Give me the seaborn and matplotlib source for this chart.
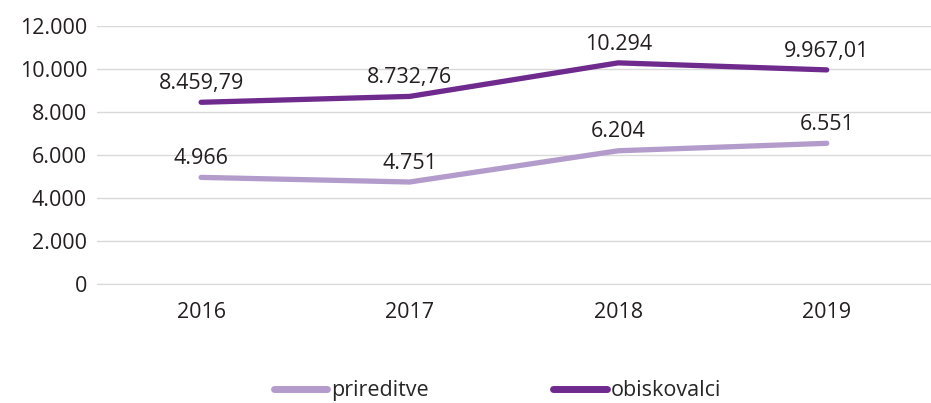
import matplotlib.pyplot as plt
import seaborn as sns
import pandas as pd
from matplotlib.lines import Line2D

# Daten
leta = ["2016", "2017", "2018", "2019"]
prireditve = [4966, 4751, 6204, 6551]
obiskovalci = [8459.79, 8732.76, 10294, 9967.01]
oznake_prireditve = ["4.966", "4.751", "6.204", "6.551"]
oznake_obiskovalci = ["8.459,79", "8.732,76", "10.294", "9.967,01"]
y_ticks = [0, 2000, 4000, 6000, 8000, 10000, 12000]
y_labels = ["0", "2.000", "4.000", "6.000", "8.000", "10.000", "12.000"]

df = pd.DataFrame({
    "leto": leta * 2,
    "vrednost": prireditve + obiskovalci,
    "serija": ["prireditve"] * 4 + ["obiskovalci"] * 4,
})

sns.set_style("white")
plt.rcParams["font.family"] = ["Open Sans", "DejaVu Sans"]
plt.rcParams["font.weight"] = "medium"

fig = plt.figure(figsize=(9.31, 4.03), dpi=100)
ax = fig.add_axes([0.104, 0.295, 0.896, 0.64])

barve = {"prireditve": "#b39ccb", "obiskovalci": "#6f2a8e"}
sns.lineplot(data=df, x="leto", y="vrednost", hue="serija", palette=barve,
             linewidth=3.8, sort=False, ax=ax, legend=False)
for line in ax.lines:
    line.set_solid_capstyle("round")

fs = 15.5
for x, y, t in zip(range(4), prireditve, oznake_prireditve):
    ax.annotate(t, (x, y), xytext=(0, 6), textcoords="offset points",
                ha="center", va="bottom", fontsize=fs, color="#231f20")
for x, y, t in zip(range(4), obiskovalci, oznake_obiskovalci):
    ax.annotate(t, (x, y), xytext=(0, 6), textcoords="offset points",
                ha="center", va="bottom", fontsize=fs, color="#231f20")

ax.set_ylim(0, 12000)
ax.set_xlim(-0.5, 3.5)
ax.set_yticks(y_ticks)
ax.set_yticklabels(y_labels)
ax.yaxis.grid(True, color="#d9d9d9", linewidth=1)
ax.set_axisbelow(True)
for s in ["top", "right", "left"]:
    ax.spines[s].set_visible(False)
ax.spines["bottom"].set_color("#d9d9d9")
ax.tick_params(axis="both", labelsize=fs, colors="#231f20", length=0)
ax.tick_params(axis="x", pad=13)
ax.tick_params(axis="y", pad=7)
ax.set_xlabel("")
ax.set_ylabel("")

handles = [Line2D([0], [0], color=barve["prireditve"], lw=5, solid_capstyle="round"),
           Line2D([0], [0], color=barve["obiskovalci"], lw=5, solid_capstyle="round")]
fig.legend(handles, ["prireditve", "obiskovalci"], loc="center",
           bbox_to_anchor=(0.534, 0.03), ncol=2, frameon=False, fontsize=fs,
           handlelength=2.5, handletextpad=0.15, columnspacing=5.8)

fig.savefig("out.png", dpi=100)
